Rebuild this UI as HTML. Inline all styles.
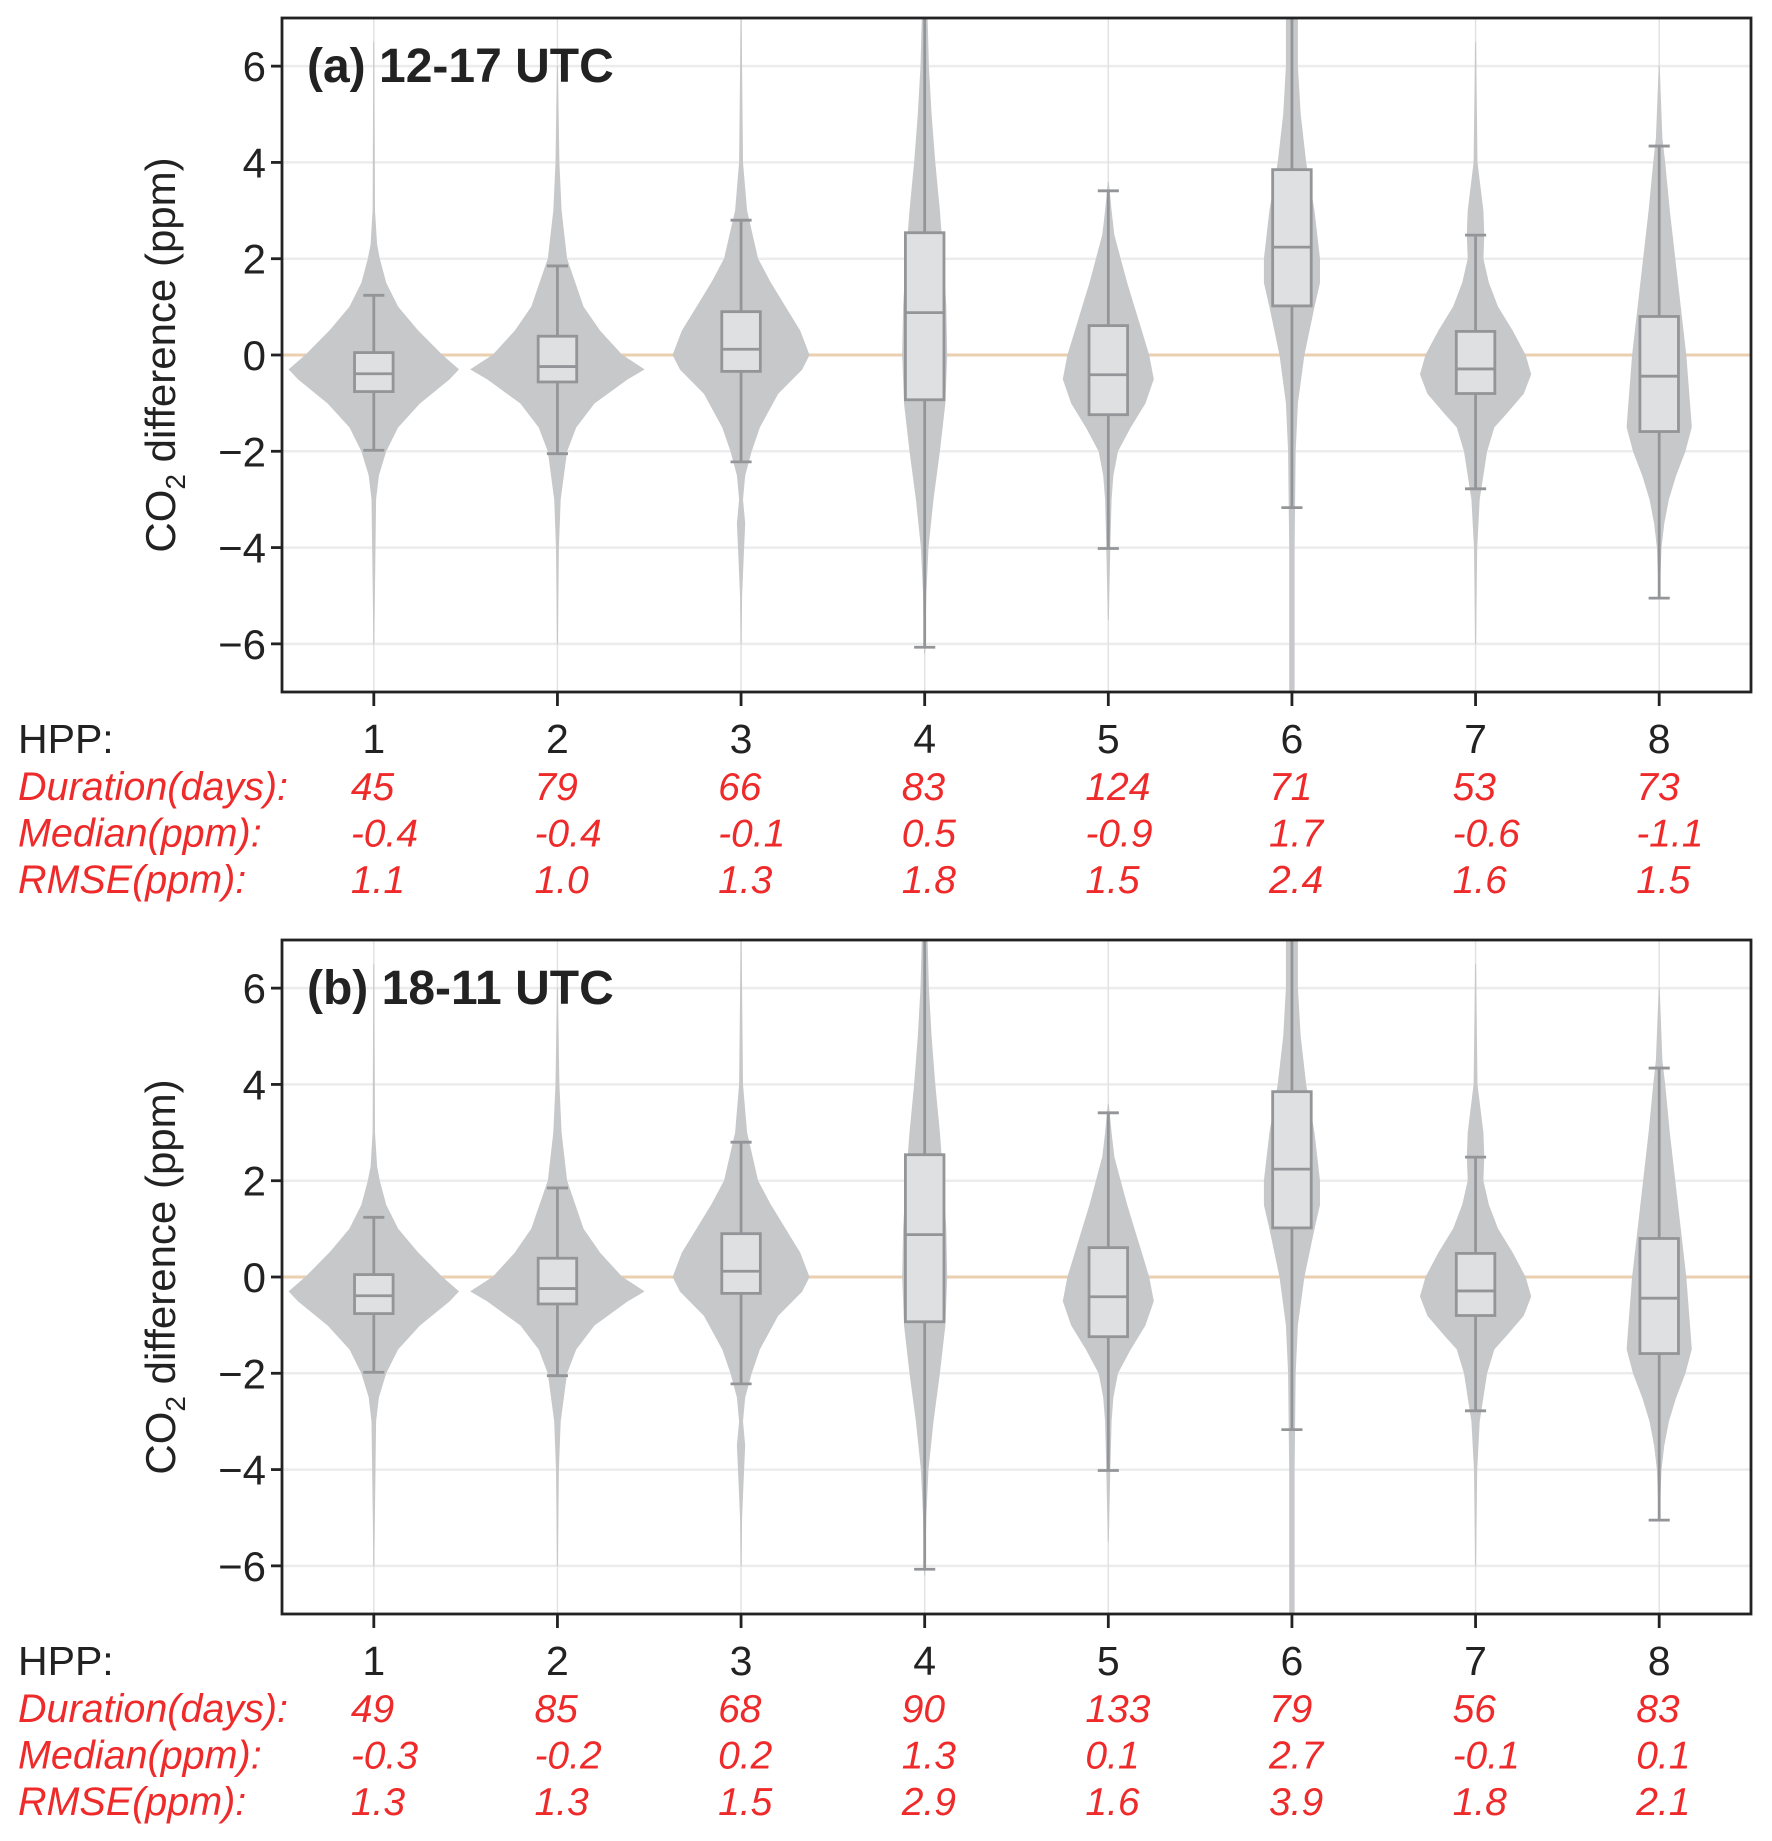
<!DOCTYPE html>
<html><head><meta charset="utf-8"><style>
html,body{margin:0;padding:0;background:#fff;}
svg{display:block;font-family:"Liberation Sans",sans-serif;}
</style></head>
<body>
<svg id="chart" width="1772" height="1841" viewBox="0 0 1772 1841" xmlns="http://www.w3.org/2000/svg"></svg>
<script>
// ---- data ----
const categories = [1,2,3,4,5,6,7,8];
const yTicks = [-6,-4,-2,0,2,4,6];
const panelTitles = ["(a) 12-17 UTC","(b) 18-11 UTC"];
const rowLabels = ["Duration(days):","Median(ppm):","RMSE(ppm):"];
const durationA = ["45","79","66","83","124","71","53","73"];
const medianA = ["-0.4","-0.4","-0.1","0.5","-0.9","1.7","-0.6","-1.1"];
const rmseA = ["1.1","1.0","1.3","1.8","1.5","2.4","1.6","1.5"];
const durationB = ["49","85","68","90","133","79","56","83"];
const medianB = ["-0.3","-0.2","0.2","1.3","0.1","2.7","-0.1","0.1"];
const rmseB = ["1.3","1.3","1.5","2.9","1.6","3.9","1.8","2.1"];
// box stats: [whiskerLow, q1, median, q3, whiskerHigh]
const boxStatsA = [
 [-1.98,-0.76,-0.39,0.05,1.24],
 [-2.05,-0.56,-0.24,0.39,1.85],
 [-2.22,-0.34,0.12,0.90,2.80],
 [-6.07,-0.93,0.88,2.54,7.5],
 [-4.02,-1.24,-0.41,0.61,3.41],
 [-3.17,1.02,2.24,3.85,7.5],
 [-2.78,-0.80,-0.29,0.49,2.49],
 [-5.05,-1.59,-0.44,0.80,4.34]];
const boxStatsB = boxStatsA.map(r=>r.slice());
// violin profiles: [y value, half width in category units]
const violins = [
 [[6.5,0],[3,0.004],[2.3,0.015],[2,0.03],[1.5,0.065],[1,0.13],[0.5,0.24],[0,0.37],[-0.3,0.46],[-0.5,0.41],[-1,0.25],[-1.5,0.13],[-2,0.065],[-2.5,0.025],[-3,0.01],[-5,0.003],[-6,0]],
 [[6,0],[4,0.008],[3,0.02],[2,0.05],[1,0.14],[0.5,0.23],[0,0.35],[-0.3,0.47],[-0.5,0.38],[-1,0.2],[-1.5,0.1],[-2,0.05],[-3,0.015],[-4,0.005],[-6,0]],
 [[7,0],[4,0.008],[3,0.03],[2,0.09],[1.5,0.16],[1,0.24],[0.5,0.32],[0,0.37],[-0.3,0.33],[-0.8,0.2],[-1.5,0.1],[-2,0.055],[-2.5,0.02],[-3,0.008],[-3.5,0.02],[-4,0.014],[-5,0.003],[-6,0]],
 [[7.5,0.01],[6,0.02],[5,0.035],[4,0.055],[3,0.08],[2,0.1],[1,0.115],[0,0.12],[-1,0.11],[-2,0.08],[-3,0.045],[-4,0.018],[-5,0.006],[-6.2,0]],
 [[3.6,0],[3,0.015],[2.5,0.03],[2,0.065],[1.5,0.1],[1,0.14],[0.5,0.18],[0,0.22],[-0.5,0.245],[-1,0.2],[-1.5,0.12],[-2,0.05],[-2.5,0.025],[-3,0.015],[-4,0.008],[-5.5,0]],
 [[7.5,0.03],[6,0.03],[5,0.045],[4,0.075],[3,0.12],[2,0.15],[1.5,0.15],[1,0.12],[0,0.065],[-1,0.03],[-2,0.018],[-4,0.012],[-7.5,0.012]],
 [[6.5,0],[4,0.008],[3,0.04],[2.5,0.045],[2,0.04],[1.5,0.07],[1,0.12],[0.5,0.2],[0,0.27],[-0.4,0.3],[-0.8,0.26],[-1.2,0.17],[-1.5,0.1],[-2,0.06],[-2.5,0.04],[-3,0.02],[-4,0.006],[-6,0]],
 [[6,0],[4.5,0.015],[4,0.03],[3,0.055],[2,0.085],[1,0.115],[0,0.145],[-1,0.165],[-1.5,0.175],[-2,0.14],[-2.5,0.09],[-3,0.05],[-3.5,0.025],[-4,0.01],[-5,0]]
];

// ---- layout ----
const NS="http://www.w3.org/2000/svg";
const svg=document.getElementById('chart');
const plotL=282, plotR=1751;
const panels=[{top:18,title:panelTitles[0],box:boxStatsA,dur:durationA,med:medianA,rmse:rmseA},
              {top:940,title:panelTitles[1],box:boxStatsB,dur:durationB,med:medianB,rmse:rmseB}];
function mk(tag,attrs,parent){const e=document.createElementNS(NS,tag);for(const k in attrs)e.setAttribute(k,attrs[k]);(parent||svg).appendChild(e);return e;}
const xScale=c=>plotL+(c-0.5)/8*(plotR-plotL);

panels.forEach((p,pi)=>{
  const top=p.top, bot=top+674;
  const yScale=v=>top+(7-v)/14*674;
  const g=mk('g',{});
  
  
  const cid='clip'+pi;
  const cp=mk('clipPath',{id:cid},g);mk('rect',{x:plotL,y:top,width:plotR-plotL,height:674},cp);
  yTicks.forEach(t=>{const l=mk('line',{x1:plotL,x2:plotR,y1:yScale(t),y2:yScale(t),stroke:'#ececec','stroke-width':2.5},g);
    });
  categories.forEach(c=>{const l=mk('line',{x1:xScale(c),x2:xScale(c),y1:top,y2:bot,stroke:'#e2e2e2','stroke-width':1.5},g);
    });
  const zl=mk('line',{x1:plotL,x2:plotR,y1:yScale(0),y2:yScale(0),stroke:'#ebcfb1','stroke-width':3},g);
  
  const inner=mk('g',{'clip-path':'url(#'+cid+')'},g);
  categories.forEach((c,i)=>{
    const prof=violins[i], cx=xScale(c), sp=(plotR-plotL)/8;
    let d='';
    prof.forEach((pt,j)=>{d+=(j?'L':'M')+(cx+pt[1]*sp).toFixed(1)+','+yScale(pt[0]).toFixed(1);});
    for(let j=prof.length-1;j>=0;j--){const pt=prof[j];d+='L'+(cx-pt[1]*sp).toFixed(1)+','+yScale(pt[0]).toFixed(1);}
    d+='Z';
    const v=mk('path',{d:d,fill:'#c7c8ca',stroke:'#c7c8ca','stroke-width':1},inner);
    
    const b=p.box[i], bw=0.21*sp/2, cw=0.115*sp/2, sc='#939598';
    const w=mk('line',{x1:cx,x2:cx,y1:yScale(b[0]),y2:yScale(b[4]),stroke:sc,'stroke-width':2.8},inner);
    
    [b[0],b[4]].forEach(val=>{const cap=mk('line',{x1:cx-cw,x2:cx+cw,y1:yScale(val),y2:yScale(val),stroke:sc,'stroke-width':2.8},inner);
      });
    const r=mk('rect',{x:cx-bw,y:yScale(b[3]),width:2*bw,height:yScale(b[1])-yScale(b[3]),fill:'#dfe0e2',stroke:sc,'stroke-width':2.8},inner);
    
    const m=mk('line',{x1:cx-bw,x2:cx+bw,y1:yScale(b[2]),y2:yScale(b[2]),stroke:sc,'stroke-width':2.8},inner);
    
  });
  const fr=mk('rect',{x:plotL,y:top,width:plotR-plotL,height:674,fill:'none',stroke:'#222','stroke-width':2.8},g);
  
  yTicks.forEach(t=>{
    mk('line',{x1:plotL-11,x2:plotL,y1:yScale(t),y2:yScale(t),stroke:'#222','stroke-width':2.8},g);
    const tx=mk('text',{x:plotL-16,y:yScale(t)+15,'text-anchor':'end','font-size':42,fill:'#222'},g);
    tx.textContent=(t<0?'\u2212':'')+Math.abs(t);
    
  });
  const yt=mk('text',{transform:'translate(175,'+(top+337)+') rotate(-90)','text-anchor':'middle','font-size':42,fill:'#222'},g);
  yt.innerHTML='CO<tspan font-size="28" dy="10">2</tspan><tspan dy="-10"> difference (ppm)</tspan>';
  
  const pt=mk('text',{x:307,y:top+64,'font-size':48,'font-weight':'bold',fill:'#222'},g);
  pt.textContent=p.title;
  const hb=bot+61;
  categories.forEach((c,i)=>{
    mk('line',{x1:xScale(c),x2:xScale(c),y1:bot,y2:bot+14,stroke:'#222','stroke-width':2.8},g);
    const tx=mk('text',{x:xScale(c),y:hb,'text-anchor':'middle','font-size':41,fill:'#222'},g);
    tx.textContent=c;
    [p.dur,p.med,p.rmse].forEach((arr,ri)=>{
      const v=mk('text',{x:xScale(c)-23,y:hb+47+ri*46.5,'font-size':39,'font-style':'italic',fill:'#ee2a2a'},g);
      v.textContent=arr[i];
    });
  });
  const hl=mk('text',{x:18,y:hb,'font-size':41,fill:'#222'},g);
  hl.textContent='HPP:';
  rowLabels.forEach((lab,ri)=>{
    const t=mk('text',{x:18,y:hb+47+ri*46.5,'font-size':39.5,'font-style':'italic',fill:'#ee2a2a'},g);
    t.textContent=lab;
  });
});
</script>
</body></html>
